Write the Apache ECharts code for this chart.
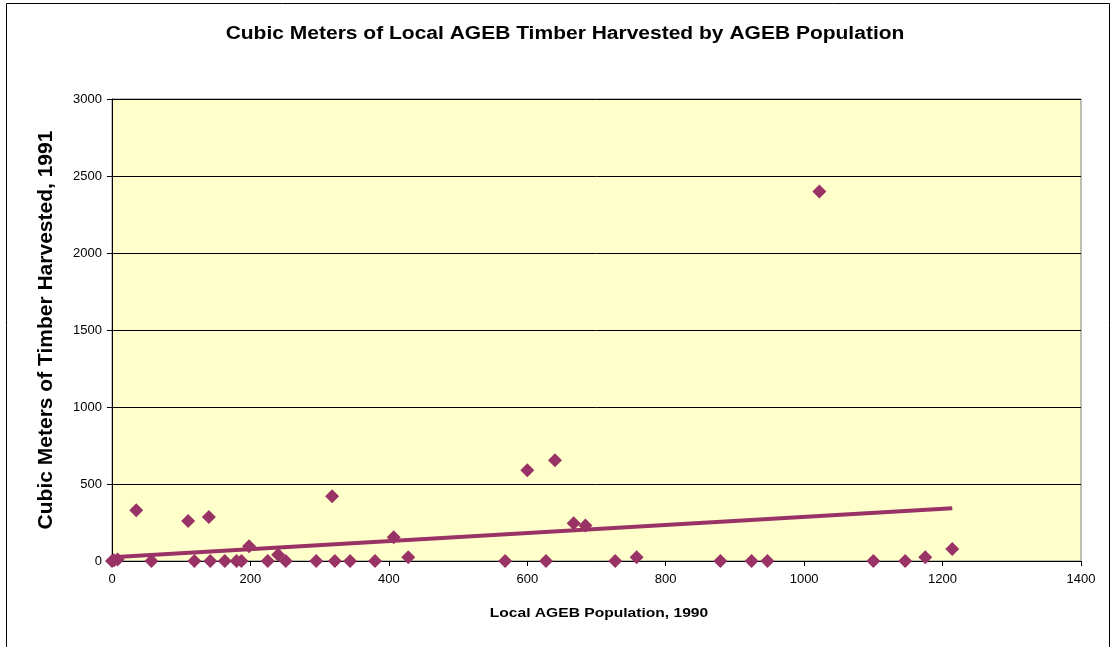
<!DOCTYPE html>
<html><head><meta charset="utf-8">
<script src="https://cdn.jsdelivr.net/npm/echarts@6/dist/echarts.min.js"></script>
<style>html,body{margin:0;padding:0;background:#fff}#c{width:1111px;height:647px}</style>
</head><body><div id="c"></div>
<script>
const titleText = 'Cubic Meters of Local AGEB Timber Harvested by AGEB Population';
const xAxisName = 'Local AGEB Population, 1990';
const yAxisName = 'Cubic Meters of Timber Harvested, 1991';
const popX = [0, 3, 8, 35, 57, 110, 119, 140, 142, 163, 180, 187, 198, 225, 240, 251, 295, 318, 322, 344, 380, 407, 428, 568, 600, 627, 640, 667, 684, 727, 758, 879, 924, 947, 1022, 1100, 1146, 1175, 1214];
const timberY = [0, 5, 10, 330, 0, 260, 0, 285, 0, 0, 0, 0, 95, 0, 40, 0, 0, 420, 0, 0, 0, 155, 25, 0, 590, 0, 655, 245, 230, 0, 25, 0, 0, 0, 2400, 0, 0, 25, 78];
const trendX = [0, 1214];
const trendY = [25, 342];

const chart = echarts.init(document.getElementById('c'));
const font = 'Liberation Sans';
chart.setOption({
  animation: false,
  backgroundColor: '#fff',
  graphic: [
    {type:'rect', shape:{x:6.5,y:3.5,width:1103,height:660}, style:{fill:'none', stroke:'#000', lineWidth:1}, z:-1},
    {type:'text', x:565, y:34, scaleX:1.2, style:{text:titleText, x:0, y:0, align:'center', verticalAlign:'middle',
      fontFamily: font, fontSize: 17.5, fontWeight: 'bold', fill:'#000'}},
    {type:'text', x:599, y:613, scaleX:1.2, style:{text:xAxisName, x:0, y:0, align:'center', verticalAlign:'middle',
      fontFamily: font, fontSize: 13, fontWeight: 'bold', fill:'#000'}}
  ],
  grid: {left: 112, top: 99, right: 30, bottom: 86, show: true, backgroundColor: '#FFFFCC', borderColor: '#808080', borderWidth: 1},
  xAxis: {type: 'value', min: 0, max: 1400, interval: 200,
    axisLine: {onZero: false, lineStyle: {color: '#000', width: 1}},
    axisTick: {show: true, length: 5, lineStyle: {color: '#000'}},
    axisLabel: {fontFamily: font, fontSize: 13, color: '#000', margin: 12, formatter: v => String(v)},
    splitLine: {show: false}},
  yAxis: {type: 'value', min: 0, max: 3000, interval: 500,
    name: yAxisName, nameLocation: 'middle', nameGap: 55,
    nameTextStyle: {fontFamily: font, fontSize: 21, fontWeight: 'bold', color: '#000'},
    axisLine: {show: true, lineStyle: {color: '#000', width: 1}},
    axisTick: {show: true, length: 5, lineStyle: {color: '#000'}},
    axisLabel: {fontFamily: font, fontSize: 13, color: '#000', margin: 10, formatter: v => String(v)},
    splitLine: {show: true, lineStyle: {color: '#000', width: 1}}},
  series: [
    {type: 'line', data: trendX.map((x, i) => [x, trendY[i]]), symbol: 'none',
      lineStyle: {color: '#993366', width: 4}, z: 3},
    {type: 'scatter', data: popX.map((x, i) => [x, timberY[i]]), symbol: 'diamond', symbolSize: 14,
      itemStyle: {color: '#993366', opacity: 1}, z: 4}
  ]
});
</script></body></html>
